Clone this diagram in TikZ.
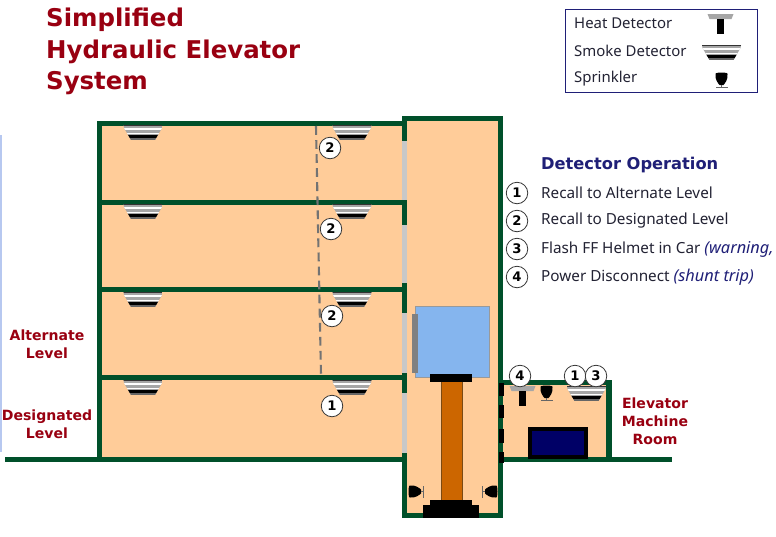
\documentclass[tikz,border=0pt]{standalone}
\usepackage{fontspec}
\setmainfont{Noto Sans}[BoldFont={DejaVu Sans Bold}]
\usepackage{tikz}
\usetikzlibrary{
  arrows.meta,
  positioning,
}
\definecolor{wallgreen}{HTML}{00502A}
\definecolor{roomfill}{HTML}{FFCC99}
\definecolor{doorgray}{HTML}{C8C8C8}
\definecolor{cabblue}{HTML}{85B5EE}
\definecolor{pistonfill}{HTML}{CC6600}
\definecolor{pistonedge}{HTML}{7A4A14}
\definecolor{panelblue}{HTML}{000066}
\definecolor{titlered}{HTML}{990011}
\definecolor{headnavy}{HTML}{1F1F77}
\definecolor{inktext}{HTML}{222233}
\definecolor{stripblue}{HTML}{B7C8F0}
\newcommand{\opnote}[1]{\textcolor{headnavy}{\fontsize{18.6}{18}\selectfont\textit{#1}}}
\tikzset{
  title/.style={font=\fontsize{27.8}{36}\selectfont\bfseries, text=titlered, anchor=west, inner sep=0pt},
  roomlabel/.style={font=\fontsize{16}{20.5}\selectfont\bfseries, text=titlered, align=center},
  legendtext/.style={font=\fontsize{17}{18}\selectfont, text=inktext, anchor=west, inner sep=0pt},
  optext/.style={font=\fontsize{17.4}{18}\selectfont, text=inktext, anchor=west, inner sep=0pt},
  badge/.style={
    circle,
    draw=black!80,
    fill=white,
    line width=0.9pt,
    minimum size=8.6mm,
    inner sep=0pt,
    font=\fontsize{15}{15}\selectfont\bfseries,
    text=black,
  },
  wall/.style={fill=wallgreen},
  pics/smoke/.style={
    code={
      \begin{scope}
        \clip (-19.5,0) -- (19.5,0) -- (19,3) -- (12,15) -- (-12,15) -- (-19,3) -- cycle;
        \fill[black!35] (-20,0) rectangle (20,15);
        \fill[black!80] (-20,0) rectangle (20,0.8);
        \fill[white] (-20,3.2) rectangle (20,4.6);
        \fill[white] (-20,7.6) rectangle (20,8.8);
        \fill[black] (-20,10) rectangle (20,13);
        \fill[black!60] (-20,13) rectangle (20,15);
      \end{scope}
    }
  },
  pics/heat/.style={
    code={
      \fill[black!35] (-13,0) -- (13,0) -- (11,5) -- (-11,5) -- cycle;
      \fill[black] (-3.5,5) rectangle (3.5,20);
    }
  },
  pics/sprinkler/.style={
    code={
      \fill[black] (-6,1) .. controls (-7,-1) and (7,-1) .. (6,1)
        .. controls (7,6) and (3,11) .. (2,12) -- (-2,12)
        .. controls (-3,11) and (-7,6) .. (-6,1) -- cycle;
      \fill[black!60] (-6,14) rectangle (6,15);
      \draw[black!60] (0,12) -- (0,14);
    }
  },
}
\begin{document}
\begin{tikzpicture}[x=0.4mm,y=-0.4mm]
  \useasboundingbox[fill=white] (0,0) rectangle (776,536);
  \fill[stripblue] (0,135) rectangle (2,452);

  % title
  \node[title] (titleone) at (46,19.5) {Simplified};
  \node[title] (titletwo) at (46,51.5) {Hydraulic Elevator};
  \node[title] (titlethree) at (46,83.5) {System};

  % legend box
  \draw[headnavy, line width=0.7pt] (565,9) rectangle (757,92);
  \node[legendtext] (legheat) at (574,23) {Heat Detector};
  \node[legendtext] (legsmoke) at (574,51) {Smoke Detector};
  \node[legendtext] (legsprink) at (574,79) {Sprinkler};
  \pic at (720.5,14) {heat};
  \pic at (721.5,45) {smoke};
  \pic at (721.5,73) {sprinkler};

  % rooms and shaft
  \fill[roomfill] (99,123) rectangle (404,459);
  \fill[roomfill] (404,118) rectangle (500,515);
  \fill[roomfill] (502,382) rectangle (608,459);

  % floors
  \foreach \y in {121,200,287,375} {
    \fill[wall] (97,\y) rectangle (407,\y+5);
  }
  \fill[wall] (97,121) rectangle (102,460);
  \fill[wall] (5,456.5) rectangle (407,461.5);

  % shaft walls, landing doors
  \fill[wall] (402,116) rectangle (503,120.5);
  \fill[wall] (498,116) rectangle (503,518);
  \fill[wall] (402,116) rectangle (407,518);
  \fill[wall] (402,513) rectangle (503,518);
  \foreach \ya/\yb in {141/200,225/283,313/373,393/453} {
    \fill[doorgray] (402,\ya) rectangle (407,\yb);
  }

  % machine room
  \fill[wall] (500,379.5) rectangle (612,385);
  \fill[wall] (606,379.5) rectangle (612,460);
  \fill[wall] (500,456.5) rectangle (672,461.5);
  \foreach \ya/\yb in {383/396,405/418,429/443,452/463} {
    \fill[black] (499,\ya) rectangle (504,\yb);
  }
  \draw[black, line width=3.6pt, fill=panelblue] (530,429) rectangle (586,457);

  % car and piston
  \draw[black!40, fill=cabblue, line width=0.7pt] (415.5,306) rectangle (489,377);
  \fill[black!50] (412,314) rectangle (418,373);
  \draw[pistonedge, fill=pistonfill, line width=0.9pt] (441,381) rectangle (462,500);
  \fill[black] (430,374) rectangle (472,381.5);
  \fill[black] (430,500) rectangle (472,505);
  \fill[black] (423,505) rectangle (479,518);

  % pit sprinklers
  \pic[rotate=90] at (409,491.5) {sprinkler};
  \pic[rotate=-90] at (497,491.5) {sprinkler};

  % detectors on the floors
  \foreach \y in {125,204,292,380} {
    \pic at (143,\y) {smoke};
    \pic at (352,\y) {smoke};
  }

  % recall wiring
  \coordinate (wiretop) at (316,126);
  \coordinate (wirebottom) at (321,375);
  \draw[black!55, line width=2.4pt, dash pattern=on 10pt off 6pt] (wiretop) -- (wirebottom);

  \node[badge] (floorone) at (330,148) {2};
  \node[badge] (floortwo) at (331,229) {2};
  \node[badge] (floorthree) at (332,316) {2};
  \node[badge] (floorfour) at (332,406) {1};

  % machine room devices
  \pic at (522.5,386) {heat};
  \pic at (546.5,386) {sprinkler};
  \pic at (586.5,386) {smoke};
  \node[badge] (roomfour) at (520,376) {4};
  \node[badge] (roomone) at (575,376) {1};
  \node[badge] (roomthree) at (596,376) {3};

  % labels
  \node[roomlabel] (altlabel) at (47,344) {Alternate\\Level};
  \node[roomlabel] (deslabel) at (47,424) {Designated\\Level};
  \node[roomlabel] (machlabel) at (655,421) {Elevator\\Machine\\Room};

  % detector operation list
  \node[font=\fontsize{18.5}{20}\selectfont\bfseries, text=headnavy, anchor=west, inner sep=0pt] (ophead) at (541,165) {Detector Operation};
  \foreach \y/\num/\lab in {
    193/1/Recall to Alternate Level,
    221/2/Recall to Designated Level,
    249/3/{Flash FF Helmet in Car \opnote{(warning,}},
    277/4/{Power Disconnect \opnote{(shunt trip)}}} {
    \node[badge] (op\num) at (517,\y) {\num};
    \node[optext] (optext\num) at (541,\y) {\lab};
  }
\end{tikzpicture}
\end{document}
